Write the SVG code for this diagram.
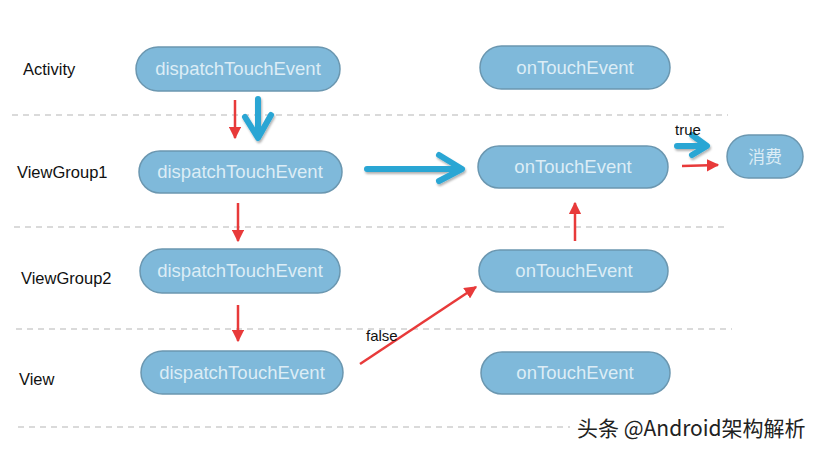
<svg xmlns="http://www.w3.org/2000/svg" width="821" height="451" viewBox="0 0 821 451">
<defs>
<style>
.pill{fill:#7fb9da;stroke:#6b97b0;stroke-width:1.5}
.pt{font-family:"Liberation Sans",Arial,sans-serif;font-size:18.5px;fill:#dcedf6;text-anchor:middle}
.lbl{font-family:"Liberation Sans",Arial,sans-serif;font-size:16.5px;fill:#111}
.dash{stroke:#b5b5b5;stroke-width:1.2;stroke-dasharray:6 5;fill:none}
.red{stroke:#e83a3a;stroke-width:2.5;fill:none}
.blue{stroke:#2aa6d4;stroke-width:6;fill:none;stroke-linecap:round;stroke-linejoin:round}
</style>
<marker id="ra" viewBox="0 0 10 10" refX="9" refY="5" markerWidth="5" markerHeight="5" orient="auto" markerUnits="strokeWidth">
<path d="M0,0 L10,5 L0,10 Z" fill="#e83a3a"/>
</marker>
<filter id="sh" x="-20%" y="-20%" width="140%" height="140%">
<feDropShadow dx="1" dy="2" stdDeviation="1.2" flood-color="#000" flood-opacity="0.3"/>
</filter>
</defs>
<rect width="821" height="451" fill="#fff"/>
<g id="separators">
<line class="dash" x1="12" y1="115" x2="728" y2="115"/>
<line class="dash" x1="14" y1="227" x2="728" y2="227"/>
<line class="dash" x1="16" y1="329" x2="732" y2="329"/>
<line class="dash" x1="18" y1="427" x2="570" y2="427"/>
</g>
<g id="layer-labels">
<text class="lbl" x="23" y="75">Activity</text>
<text class="lbl" x="17" y="178">ViewGroup1</text>
<text class="lbl" x="21" y="284">ViewGroup2</text>
<text class="lbl" x="19" y="385">View</text>
</g>
<g id="act-dispatch"><rect class="pill" x="136" y="47" width="204" height="44" rx="22"/><text class="pt" x="238" y="75">dispatchTouchEvent</text></g>
<g id="vg1-dispatch"><rect class="pill" x="139" y="151" width="203" height="42" rx="21"/><text class="pt" x="240" y="178">dispatchTouchEvent</text></g>
<g id="vg2-dispatch"><rect class="pill" x="140" y="249" width="200" height="44" rx="22"/><text class="pt" x="240" y="277">dispatchTouchEvent</text></g>
<g id="view-dispatch"><rect class="pill" x="141" y="351" width="202" height="43" rx="21.5"/><text class="pt" x="242" y="379">dispatchTouchEvent</text></g>
<g id="act-ontouch"><rect class="pill" x="480" y="46" width="190" height="43" rx="21.5"/><text class="pt" x="575" y="74">onTouchEvent</text></g>
<g id="vg1-ontouch"><rect class="pill" x="478" y="146" width="190" height="42" rx="21"/><text class="pt" x="573" y="173">onTouchEvent</text></g>
<g id="vg2-ontouch"><rect class="pill" x="479" y="250" width="189" height="42" rx="21"/><text class="pt" x="574" y="277">onTouchEvent</text></g>
<g id="view-ontouch"><rect class="pill" x="481" y="352" width="189" height="42" rx="21"/><text class="pt" x="575" y="379">onTouchEvent</text></g>
<g id="consume"><rect class="pill" x="727" y="135" width="76" height="43" rx="21.5"/><text class="pt" x="765" y="163" style="font-family:'Noto Sans CJK SC',sans-serif;font-size:17px">消费</text></g>
<g id="connectors">
<line class="red" x1="235" y1="100" x2="235" y2="138" marker-end="url(#ra)"/>
<line class="red" x1="238" y1="203" x2="238" y2="241" marker-end="url(#ra)"/>
<line class="red" x1="238" y1="305" x2="238" y2="341" marker-end="url(#ra)"/>
<line class="red" x1="575" y1="241" x2="575" y2="203" marker-end="url(#ra)"/>
<line class="red" x1="360" y1="364" x2="476" y2="287" marker-end="url(#ra)"/>
<line class="red" x1="682" y1="166" x2="718" y2="165" marker-end="url(#ra)"/>
<g filter="url(#sh)">
<path class="blue" d="M258,99 L258,137 M245,117 L258,138 L271,115"/>
<path class="blue" d="M367,169 L458,169 M439,155 L462,169 L439,181"/>
<path class="blue" d="M677,146 L705,146 M692,135 L707,146 L692,155"/>
</g>
<text class="lbl" x="366" y="341" style="font-size:15px">false</text>
<text class="lbl" x="675" y="135" style="font-size:15px">true</text>
</g>
<text x="577" y="436" style="font-family:'Noto Sans CJK SC',sans-serif;font-size:21px;fill:#222;stroke:#fff;stroke-width:0.6;paint-order:stroke">头条 @Android架构解析</text>
</svg>
